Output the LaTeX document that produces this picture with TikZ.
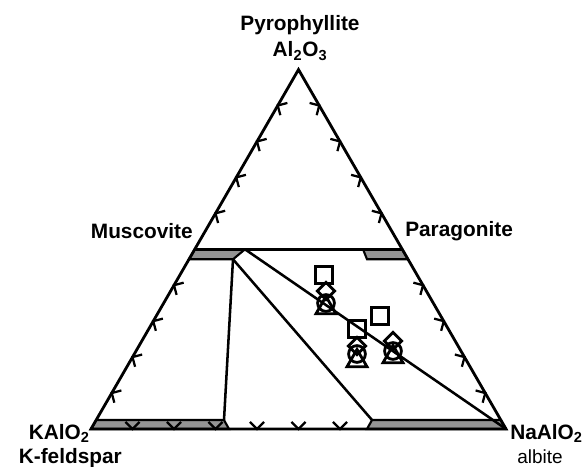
\documentclass[tikz,border=0pt]{standalone}
\usepackage{fontspec}
\setmainfont{Liberation Sans}
\usetikzlibrary{calc,shapes.geometric,positioning}

\begin{document}
\begin{tikzpicture}[x=0.025cm,y=0.025cm,line join=miter]
        \tikzstyle{edge}=[line width=2pt]
        \tikzstyle{tie}=[line width=1.8pt]
        \tikzstyle{band}=[draw,line width=1.5pt,fill=black!42]
        \tikzstyle{tick}=[line width=1.6pt]
        \tikzstyle{lbl}=[font=\fontsize{14.8}{17}\selectfont\bfseries,inner sep=0pt]
        \tikzstyle{sq}=[rectangle,draw,line width=2pt,minimum size=0.42cm,inner sep=0pt]
        \tikzstyle{dia}=[diamond,draw,line width=2pt,minimum size=0.46cm,inner sep=0pt]
        \tikzstyle{tri}=[regular polygon,regular polygon sides=3,draw,line width=2pt,minimum size=0.58cm,inner sep=0pt]
        \tikzstyle{ci}=[circle,draw,line width=2pt,minimum size=0.42cm,inner sep=0pt]
        \useasboundingbox (0,0) rectangle (584,466);
        \begin{scope}
        \coordinate (kfs) at (91,37);
        \coordinate (ab)  at (506,37);
        \coordinate (prl) at (298.5,396.4);
        \coordinate (ms)  at ($(kfs)!0.5!(prl)$);
        \coordinate (pg)  at ($(ab)!0.5!(prl)$);
        \coordinate (msa) at (245,216.7);
        \coordinate (msb) at (233,206.7);
        \coordinate (msc) at ($(kfs)!0.4722!(prl)$);
        \coordinate (pga) at (363,216.7);
        \coordinate (pgb) at (367,206.7);
        \coordinate (pgc) at ($(ab)!0.4722!(prl)$);
        \coordinate (kfa) at (229,37);
        \coordinate (kfb) at (224,46);
        \coordinate (kfc) at ($(kfs)!0.025!(prl)$);
        \coordinate (aba) at (367,37);
        \coordinate (abb) at (372,46);
        \coordinate (abc) at ($(ab)!0.025!(prl)$);

        \draw[band] (ms) -- (msa) -- (msb) -- (msc) -- cycle;
        \draw[band] (pga) -- (pg) -- (pgc) -- (pgb) -- cycle;
        \draw[band] (kfs) -- (kfa) -- (kfb) -- (kfc) -- cycle;
        \draw[band] (aba) -- (ab) -- (abc) -- (abb) -- cycle;

        \draw[edge] (kfs) -- (ab) -- (prl) -- cycle;
        \draw[tie] (ms) -- (pg);
        \draw[tie] (msb) -- (kfb);
        \draw[tie] (msb) -- (abb);
        \draw[tie] (msa) -- (ab);

        \foreach \t in {0.1,0.2,0.3,0.4,0.6,0.7,0.8,0.9}{
            \draw[tick] ($(kfs)!\t!(prl)$) coordinate (p) ++(285:10) -- (p) -- ++(15:10);
            \draw[tick] ($(ab)!\t!(prl)$) coordinate (q) ++(255:10) -- (q) -- ++(165:10);
        }
        \foreach \t in {0.1,0.2,0.3,0.4,0.5,0.6}
            \draw[tick] ($(kfs)!\t!(ab)$) coordinate (r) ++(135:10) -- (r) -- ++(45:10);
        \end{scope}

        \node[sq](sqa) at (324,191) {};
        \node[dia](diaa) at (326,175) {};
        \node[ci](cia) at (326,163) {};
        \node[tri](tria) at (326,158) {};

        \node[sq](sqb) at (380,150) {};
        \node[sq](sqc) at (357,137) {};
        \node[dia](diac) at (357,120) {};
        \node[ci](cic) at (357,112) {};
        \node[tri](tric) at (357,105) {};

        \node[dia](diad) at (393,125) {};
        \node[ci](cid) at (393,115) {};
        \node[tri](trid) at (393,109) {};

        \node[lbl,anchor=base](prltxt) at (300,435) {Pyrophyllite};
        \node[lbl,anchor=base](altxt) at (300,409) {Al\textsubscript{2}O\textsubscript{3}};
        \node[lbl,anchor=base east](mstxt) at (193,227) {Muscovite};
        \node[lbl,anchor=base west](pgtxt) at (405,229) {Paragonite};
        \node[lbl,anchor=base east](kaltxt) at (90,27) {KAlO\textsubscript{2}};
        \node[lbl,anchor=base east](kfstxt) at (122,3) {K-feldspar};
        \node[lbl,anchor=base west](naltxt) at (510,27) {NaAlO\textsubscript{2}};
        \node[font=\fontsize{13.5}{16}\selectfont,inner sep=0pt,anchor=base](abtxt) at (540,3) {albite};
\end{tikzpicture}
\end{document}
